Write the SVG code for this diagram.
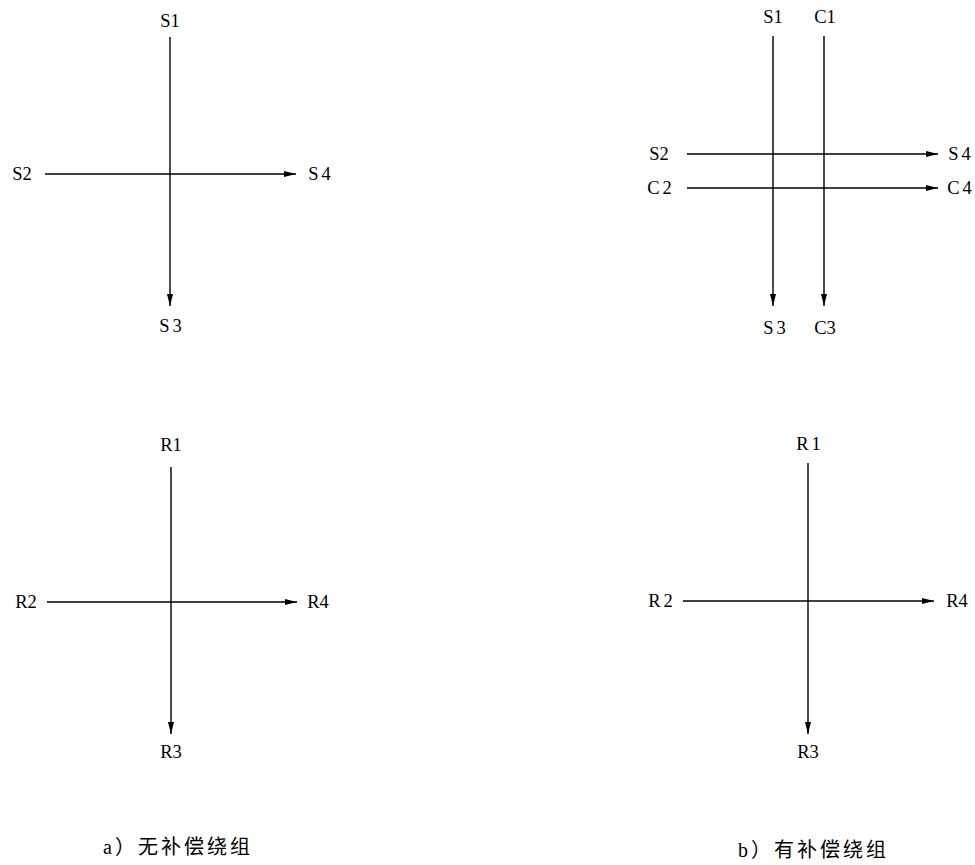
<svg xmlns="http://www.w3.org/2000/svg" width="975" height="865" viewBox="0 0 975 865">
<defs>
<marker id="arr" viewBox="0 0 12 6" refX="12" refY="3" markerWidth="12" markerHeight="6" markerUnits="userSpaceOnUse" orient="auto">
<path d="M0,0 L12,3 L0,6 Z" fill="#000"/>
</marker>
<style>
.ln{stroke:#000;stroke-width:1.4;fill:none;marker-end:url(#arr)}
.lb{font-family:"Liberation Serif","DejaVu Serif",serif;font-size:18.5px;fill:#000;text-anchor:middle}
.sp{letter-spacing:3px}
.cap{font-family:"Liberation Serif","Noto Sans CJK SC",sans-serif;font-size:20px;fill:#000;letter-spacing:3px}
</style>
</defs>
<rect width="975" height="865" fill="#fff"/>
<g id="connectors">
<line class="ln" x1="170" y1="37" x2="170" y2="306"/>
<line class="ln" x1="45" y1="174" x2="296" y2="174"/>
<line class="ln" x1="773" y1="36" x2="773" y2="306"/>
<line class="ln" x1="824" y1="36" x2="824" y2="306"/>
<line class="ln" x1="687" y1="154" x2="938" y2="154"/>
<line class="ln" x1="687" y1="188" x2="938" y2="188"/>
<line class="ln" x1="171" y1="467" x2="171" y2="734"/>
<line class="ln" x1="47" y1="602" x2="297" y2="602"/>
<line class="ln" x1="808" y1="463" x2="808" y2="734"/>
<line class="ln" x1="683" y1="601" x2="934" y2="601"/>
</g>
<g id="a-stator">
<text class="lb" x="170" y="27">S1</text>
<text class="lb" x="22" y="180">S2</text>
<text class="lb sp" x="321" y="180">S4</text>
<text class="lb sp" x="172" y="332">S3</text>
</g>
<g id="b-stator">
<text class="lb" x="773" y="23">S1</text>
<text class="lb" x="825" y="23">C1</text>
<text class="lb" x="659" y="160">S2</text>
<text class="lb sp" x="961" y="160">S4</text>
<text class="lb sp" x="661" y="194">C2</text>
<text class="lb sp" x="961" y="194">C4</text>
<text class="lb sp" x="776" y="334">S3</text>
<text class="lb" x="825" y="334">C3</text>
</g>
<g id="a-rotor">
<text class="lb" x="171" y="451">R1</text>
<text class="lb" x="26" y="608">R2</text>
<text class="lb" x="318" y="608">R4</text>
<text class="lb" x="171" y="758">R3</text>
</g>
<g id="b-rotor">
<text class="lb sp" x="810" y="450">R1</text>
<text class="lb sp" x="662" y="607">R2</text>
<text class="lb" x="957" y="607">R4</text>
<text class="lb" x="808" y="758">R3</text>
</g>
<g id="captions">
<text class="cap" x="103" y="854">a）无补偿绕组</text>
<text class="cap" x="738" y="857">b）有补偿绕组</text>
</g>
</svg>
